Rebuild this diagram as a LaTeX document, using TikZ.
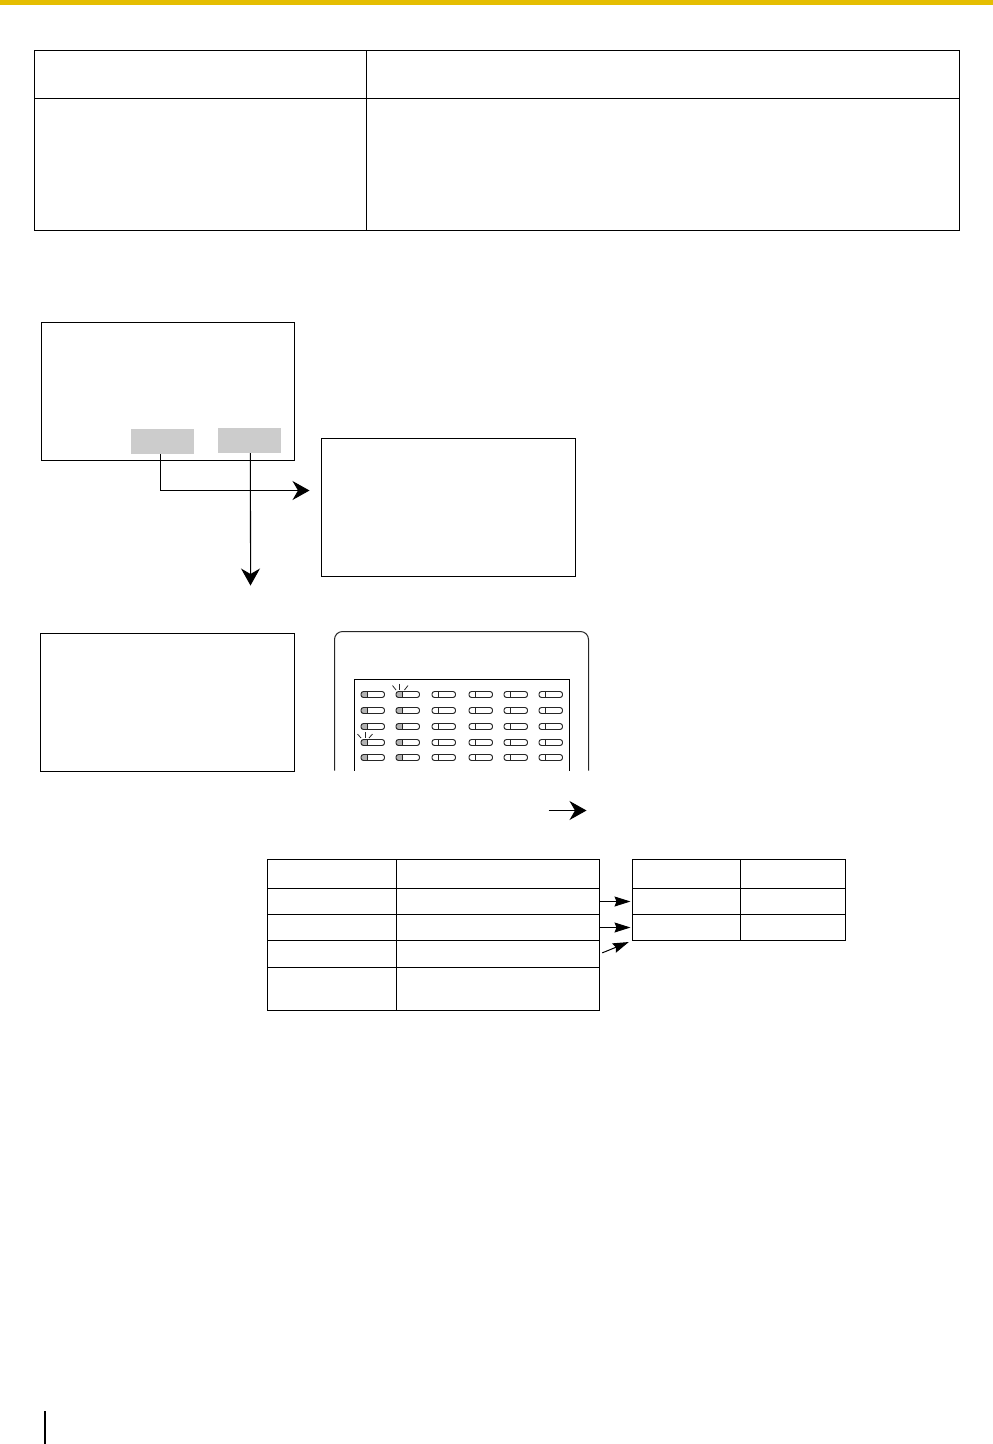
\documentclass[tikz,border=0pt]{standalone}
\usetikzlibrary{arrows.meta}

\definecolor{bargold}{RGB}{229,190,1}
\definecolor{softgray}{RGB}{204,204,204}

\tikzset{
    box/.style={draw, line width=0.57pt, anchor=north west, inner sep=0pt, outer sep=0pt},
    softkey/.style={fill=softgray, anchor=north west, inner sep=0pt, outer sep=0pt, xshift=-0.01cm, yshift=0.01cm},
    bigarrow/.style={-{Stealth[length=0.34cm, width=0.38cm, inset=0.11cm]}, line width=0.57pt},
    smallarrow/.style={-{Stealth[length=0.32cm, width=0.2cm, inset=0.04cm]}, line width=0.57pt},
    keybar/.style={draw=black!85, line width=0.55pt, rounded corners=0.05cm},
    flash/.style={line width=0.45pt, black!85}
}

\begin{document}
\begin{tikzpicture}[x=0.02cm, y=-0.02cm]
    \useasboundingbox (0,0) rectangle (993,1444);

    % Top bar and page mark
    \fill[bargold] (0,0) rectangle (993,5);
    \fill[black] (44,1411) rectangle (46,1444);

    \begin{scope}[shift={(0.5,0.5)}]
    % Top table
    \node[box, minimum width=6.64cm, minimum height=0.96cm] (headleft) at (34,50) {};
    \node[box, minimum width=11.86cm, minimum height=0.96cm] (headright) at (366,50) {};
    \node[box, minimum width=6.64cm, minimum height=2.64cm] (bodyleft) at (34,98) {};
    \node[box, minimum width=11.86cm, minimum height=2.64cm] (bodyright) at (366,98) {};

    % Screens
    \node[box, minimum width=5.06cm, minimum height=2.76cm] (screena) at (41,322) {};
    \node[box, minimum width=5.08cm, minimum height=2.76cm] (screenb) at (321,438) {};
    \node[box, minimum width=5.08cm, minimum height=2.76cm] (screenc) at (40,633) {};
    \node[softkey, minimum width=1.26cm, minimum height=0.50cm] (softa) at (131,429) {};
    \node[softkey, minimum width=1.26cm, minimum height=0.50cm] (softb) at (218,428) {};

    % Arrows from the soft keys
    \coordinate (endb) at (309,490);
    \coordinate (endc) at (250,585);
    \draw[bigarrow] ([xshift=-0.04cm]softa.south) |- (endb);
    \draw[bigarrow] ([xshift=0.02cm]softb.south) -- (endc);

    % Device
    \draw[line width=0.57pt, black!85, rounded corners=0.16cm] (334,770) -- (334,631) -- (588,631) -- (588,770);
    \draw[line width=0.57pt] (354,770) -- (354,679) -- (568.5,679) -- (568.5,770);

    % Keys
    \foreach \y in {691,707,723,739,754} {
        \foreach \x in {360.5,395.5} {
            \fill[gray!60, rounded corners=0.05cm] (\x,\y) rectangle (\x+7,\y+6);
        }
        \foreach \x in {360.5,395.5,431.5,468.5,503.5,538.5} {
            \draw[keybar] (\x,\y) rectangle (\x+23.5,\y+6);
            \draw[line width=0.55pt, black!85] (\x+6,\y) -- (\x+6,\y+6);
        }
    }

    % Flashing keys
    \draw[flash] (392,685) -- (395.5,689.5);
    \draw[flash] (399,683) -- (399,689);
    \draw[flash] (407.5,685) -- (404,689.5);
    \draw[flash] (357,733.5) -- (360.5,737.5);
    \draw[flash] (364.5,731.5) -- (364.5,737);
    \draw[flash] (372,733.5) -- (368.5,737.5);

    % Free arrow
    \coordinate (freestart) at (548,810);
    \coordinate (freeend) at (586,810);
    \draw[bigarrow] (freestart) -- (freeend);

    % Left table
    \node[box, minimum width=2.58cm, minimum height=0.58cm] (leftaa) at (267,859) {};
    \node[box, minimum width=4.06cm, minimum height=0.58cm] (leftab) at (396,859) {};
    \node[box, minimum width=2.58cm, minimum height=0.52cm] (leftba) at (267,888) {};
    \node[box, minimum width=4.06cm, minimum height=0.52cm] (leftbb) at (396,888) {};
    \node[box, minimum width=2.58cm, minimum height=0.52cm] (leftca) at (267,914) {};
    \node[box, minimum width=4.06cm, minimum height=0.52cm] (leftcb) at (396,914) {};
    \node[box, minimum width=2.58cm, minimum height=0.54cm] (leftda) at (267,940) {};
    \node[box, minimum width=4.06cm, minimum height=0.54cm] (leftdb) at (396,940) {};
    \node[box, minimum width=2.58cm, minimum height=0.86cm] (leftea) at (267,967) {};
    \node[box, minimum width=4.06cm, minimum height=0.86cm] (lefteb) at (396,967) {};

    % Right table
    \node[box, minimum width=2.16cm, minimum height=0.58cm] (rightaa) at (632,859) {};
    \node[box, minimum width=2.10cm, minimum height=0.58cm] (rightab) at (740,859) {};
    \node[box, minimum width=2.16cm, minimum height=0.52cm] (rightba) at (632,888) {};
    \node[box, minimum width=2.10cm, minimum height=0.52cm] (rightbb) at (740,888) {};
    \node[box, minimum width=2.16cm, minimum height=0.52cm] (rightca) at (632,914) {};
    \node[box, minimum width=2.10cm, minimum height=0.52cm] (rightcb) at (740,914) {};

    % Arrows between the tables
    \draw[smallarrow, shorten <=0.02cm, shorten >=0.04cm] (leftbb.east) -- (rightba.west);
    \draw[smallarrow, shorten <=0.02cm, shorten >=0.04cm] (leftcb.east) -- (rightca.west);
    \draw[smallarrow, shorten <=0.06cm, shorten >=0.08cm] (leftdb.east) -- (rightca.south west);
    \end{scope}
\end{tikzpicture}
\end{document}
